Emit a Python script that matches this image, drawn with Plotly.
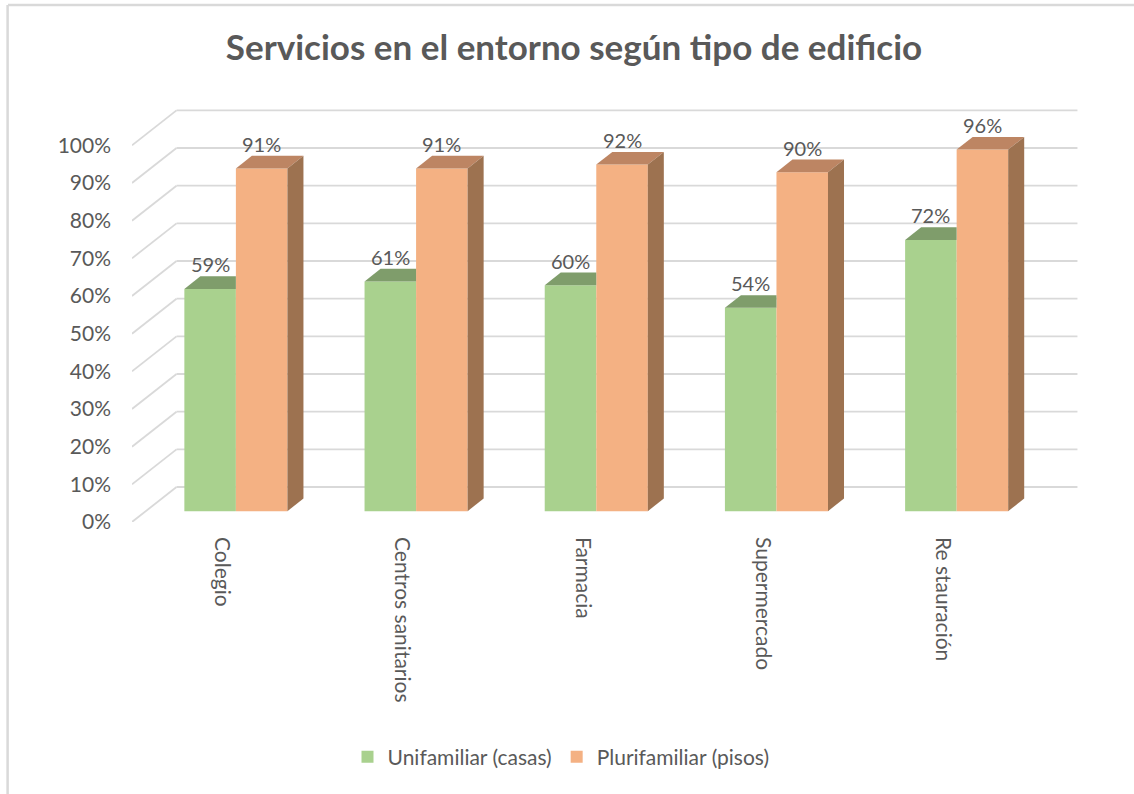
import plotly.graph_objects as go

# ---- data ----
categories = ["Colegio", "Centros sanitarios", "Farmacia", "Supermercado", "Re stauración"]
unifamiliar = [59, 61, 60, 54, 72]
plurifamiliar = [91, 91, 92, 90, 96]
series_names = ["Unifamiliar (casas)", "Plurifamiliar (pisos)"]
y_ticks = [0, 10, 20, 30, 40, 50, 60, 70, 80, 90, 100]
y_ticktext = [f"{t}%" for t in y_ticks]

# ---- style / geometry of pseudo-3D ----
FONT = "Lato"
TXT = "#595959"
GRID = "#D9D9D9"
G_FRONT, G_TOP = "#A9D18E", "#7F9D6B"
O_FRONT, O_TOP, O_SIDE = "#F4B183", "#BD8563", "#9D7250"

DU, DV = 0.247, 9.29          # full depth offset (x in category units, y in % units)
DF, DB = 0.31, 0.67           # bar front / back depth fractions
BW = 0.286                    # bar width (category units)

n = len(categories)
fig = go.Figure()

def depth(d):
    return DU * d, DV * d

fu, fv = depth(DF)
bu, bv = depth(DB)
ddu, ddv = bu - fu, bv - fv

# gridlines on back wall + side diagonals (shapes, below traces)
shapes = []
for t in y_ticks:
    shapes.append(dict(type="line", xref="x", yref="y", x0=DU, x1=n + DU, y0=t + DV, y1=t + DV,
                       line=dict(color=GRID, width=1.8), layer="below"))
    shapes.append(dict(type="line", xref="x", yref="y", x0=0, x1=DU, y0=t, y1=t + DV,
                       line=dict(color=GRID, width=1.8), layer="below"))

g_x = [k + 0.5 + fu - BW / 2 for k in range(n)]
o_x = [k + 0.5 + fu + BW / 2 for k in range(n)]

# front faces as bars
fig.add_trace(go.Bar(x=g_x, y=unifamiliar, base=[fv] * n, width=BW, name=series_names[0],
                     marker=dict(color=G_FRONT, line=dict(width=0)), hoverinfo="skip"))
fig.add_trace(go.Bar(x=o_x, y=plurifamiliar, base=[fv] * n, width=BW, name=series_names[1],
                     marker=dict(color=O_FRONT, line=dict(width=0)), hoverinfo="skip"))

# top / side faces
for k in range(n):
    # green top (clipped where orange front face covers it)
    xl, xr = g_x[k] - BW / 2, g_x[k] + BW / 2
    v = unifamiliar[k] + fv
    fig.add_trace(go.Scatter(x=[xl, xr, xr, xl + ddu, xl], y=[v, v, v + ddv, v + ddv, v],
                             fill="toself", fillcolor=G_TOP, mode="lines", line=dict(width=0),
                             showlegend=False, hoverinfo="skip"))
    # orange top + side
    xl, xr = o_x[k] - BW / 2, o_x[k] + BW / 2
    v = plurifamiliar[k] + fv
    fig.add_trace(go.Scatter(x=[xl, xr, xr + ddu, xl + ddu, xl], y=[v, v, v + ddv, v + ddv, v],
                             fill="toself", fillcolor=O_TOP, mode="lines", line=dict(width=0),
                             showlegend=False, hoverinfo="skip"))
    fig.add_trace(go.Scatter(x=[xr, xr, xr + ddu, xr + ddu, xr], y=[fv, v, v + ddv, fv + ddv, fv],
                             fill="toself", fillcolor=O_SIDE, mode="lines", line=dict(width=0),
                             showlegend=False, hoverinfo="skip"))

# data labels
annotations = []
for k in range(n):
    for xs, vals in ((g_x, unifamiliar), (o_x, plurifamiliar)):
        annotations.append(dict(x=xs[k], y=vals[k] + bv, xref="x", yref="y", text=f"{vals[k]}%",
                                showarrow=False, yanchor="bottom", yshift=-2,
                                font=dict(family=FONT, size=20, color=TXT)))

fig.update_layout(
    width=1134, height=794,
    margin=dict(l=132, r=47, t=70, b=272),
    paper_bgcolor="white", plot_bgcolor="white",
    barmode="overlay",
    title=dict(text="<b>Servicios en el entorno según tipo de edificio</b>",
               x=574 / 1134, xref="container", xanchor="center",
               y=1 - 48 / 794, yref="container", yanchor="middle",
               font=dict(family=FONT, size=35, color=TXT)),
    xaxis=dict(range=[0, 5.3], tickvals=[k + 0.5 for k in range(n)], ticktext=categories,
               tickangle=90, showgrid=False, zeroline=False, showline=False, ticks="",
               ticklabelstandoff=14, tickfont=dict(family=FONT, size=21, color=TXT),
               fixedrange=True),
    yaxis=dict(range=[0, 120], tickvals=y_ticks, ticktext=y_ticktext, showgrid=False,
               zeroline=False, showline=False, ticks="", ticklabelstandoff=20,
               tickfont=dict(family=FONT, size=21, color=TXT), fixedrange=True),
    legend=dict(orientation="h", x=561 / 1134, xref="container", xanchor="center",
                y=1 - 757 / 794, yref="container", yanchor="middle",
                font=dict(family=FONT, size=21, color=TXT), itemclick=False,
                itemwidth=30),
    shapes=shapes,
    annotations=annotations,
)

# outer frame (left and top edges visible in the reference)
fig.add_shape(type="line", xref="paper", yref="paper", x0=-124 / 952, x1=-124 / 952,
              y0=-272 / 452, y1=(452 + 65) / 452, line=dict(color=GRID, width=2.5))
fig.add_shape(type="line", xref="paper", yref="paper", x0=-124 / 955, x1=(955 + 47) / 955,
              y0=(452 + 65) / 452, y1=(452 + 65) / 452, line=dict(color=GRID, width=2.5))

fig.write_html("out.html", config={"displayModeBar": False},
               post_script="document.body.style.margin='0';")
